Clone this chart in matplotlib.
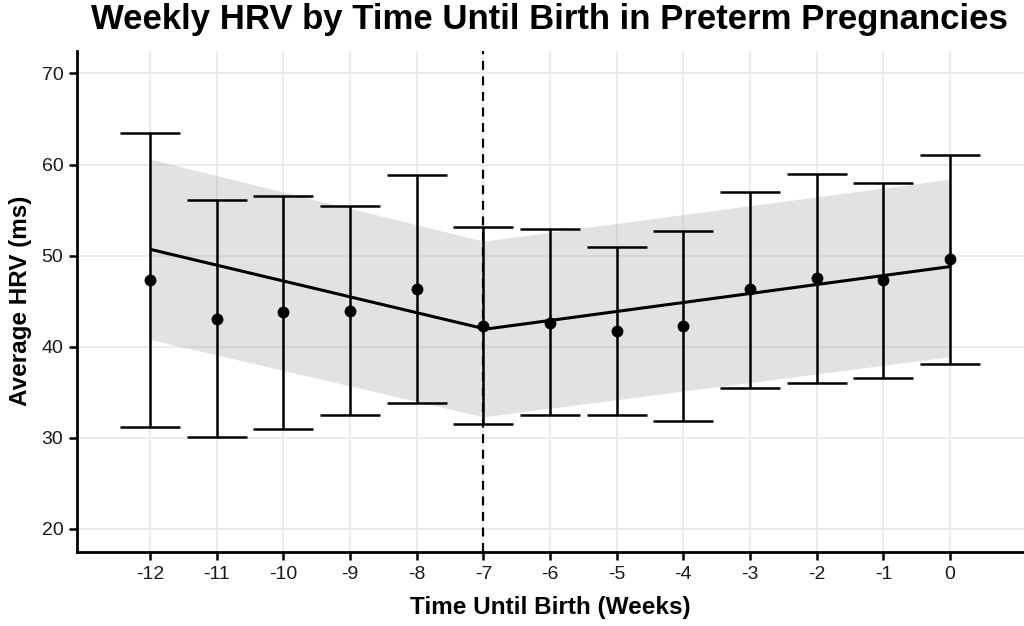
import matplotlib
matplotlib.use("Agg")
import matplotlib.pyplot as plt

plt.rcParams['font.family'] = ['Liberation Sans', 'DejaVu Sans']

# ---- data ----
weeks = [-12, -11, -10, -9, -8, -7, -6, -5, -4, -3, -2, -1, 0]
hrv_mean = [47.3, 43.1, 43.8, 43.9, 46.3, 42.3, 42.6, 41.7, 42.3, 46.3, 47.5, 47.3, 49.6]
hrv_upper = [63.5, 56.1, 56.5, 55.5, 58.8, 53.2, 52.9, 50.9, 52.7, 57.0, 59.0, 58.0, 61.1]
hrv_lower = [31.2, 30.1, 31.0, 32.5, 33.8, 31.5, 32.5, 32.5, 31.9, 35.5, 36.0, 36.6, 38.1]

# piecewise fit (before / after breakpoint at -7)
fit1_x = [-12, -7]
fit1_y = [50.7, 42.0]
fit1_lo = [40.8, 32.3]
fit1_hi = [60.6, 51.6]
fit2_x = [-7, 0]
fit2_y = [41.9, 48.8]
fit2_lo = [32.3, 38.9]
fit2_hi = [51.6, 58.4]

breakpoint = -7
xticks = weeks
yticks = [20, 30, 40, 50, 60, 70]

# ---- plot ----
fig = plt.figure(figsize=(10.24, 6.26), dpi=100)
ax = fig.add_axes([0.0755, 0.1187, 0.9245, 0.8003])

ax.set_xlim(-13.09, 1.11)
ax.set_ylim(17.5, 72.5)
ax.set_xticks(xticks)
ax.set_xticklabels([str(w) for w in xticks])
ax.set_yticks(yticks)

ax.grid(True, color='#ebebeb', linewidth=1.4, zorder=0)
ax.set_axisbelow(True)

for sp in ['top', 'right']:
    ax.spines[sp].set_visible(False)
for sp in ['left', 'bottom']:
    ax.spines[sp].set_linewidth(2.0)
    ax.spines[sp].set_color('black')

ax.tick_params(axis='both', length=6, width=1.8, color='black',
               labelsize=14, labelcolor='#1a1a1a', pad=4)

# ribbons
ax.fill_between(fit1_x, fit1_lo, fit1_hi, color='#9a9a9a', alpha=0.28, linewidth=0, zorder=1)
ax.fill_between(fit2_x, fit2_lo, fit2_hi, color='#9a9a9a', alpha=0.28, linewidth=0, zorder=1)

# breakpoint
ax.axvline(breakpoint, color='black', linestyle=(0, (4, 3)), linewidth=1.6, zorder=2)

# error bars
ax.vlines(weeks, hrv_lower, hrv_upper, color='black', linewidth=1.8, zorder=3)
ax.hlines(hrv_upper, [w - 0.45 for w in weeks], [w + 0.45 for w in weeks],
          color='black', linewidth=1.8, zorder=3)
ax.hlines(hrv_lower, [w - 0.45 for w in weeks], [w + 0.45 for w in weeks],
          color='black', linewidth=1.8, zorder=3)

# fit lines
ax.plot(fit1_x, fit1_y, color='black', linewidth=2.2, zorder=4, solid_capstyle='butt')
ax.plot(fit2_x, fit2_y, color='black', linewidth=2.2, zorder=4, solid_capstyle='butt')

# points
ax.plot(weeks, hrv_mean, 'o', color='black', markersize=7.5, zorder=5)

ax.set_xlabel('Time Until Birth (Weeks)', fontsize=17.5, fontweight='bold', labelpad=10)
ax.set_ylabel('Average HRV (ms)', fontsize=17.5, fontweight='bold', labelpad=7)

fig.text(0.537, 0.969, 'Weekly HRV by Time Until Birth in Preterm Pregnancies',
         ha='center', va='center', fontsize=25, fontweight='bold')

fig.savefig('out.png', dpi=100)
